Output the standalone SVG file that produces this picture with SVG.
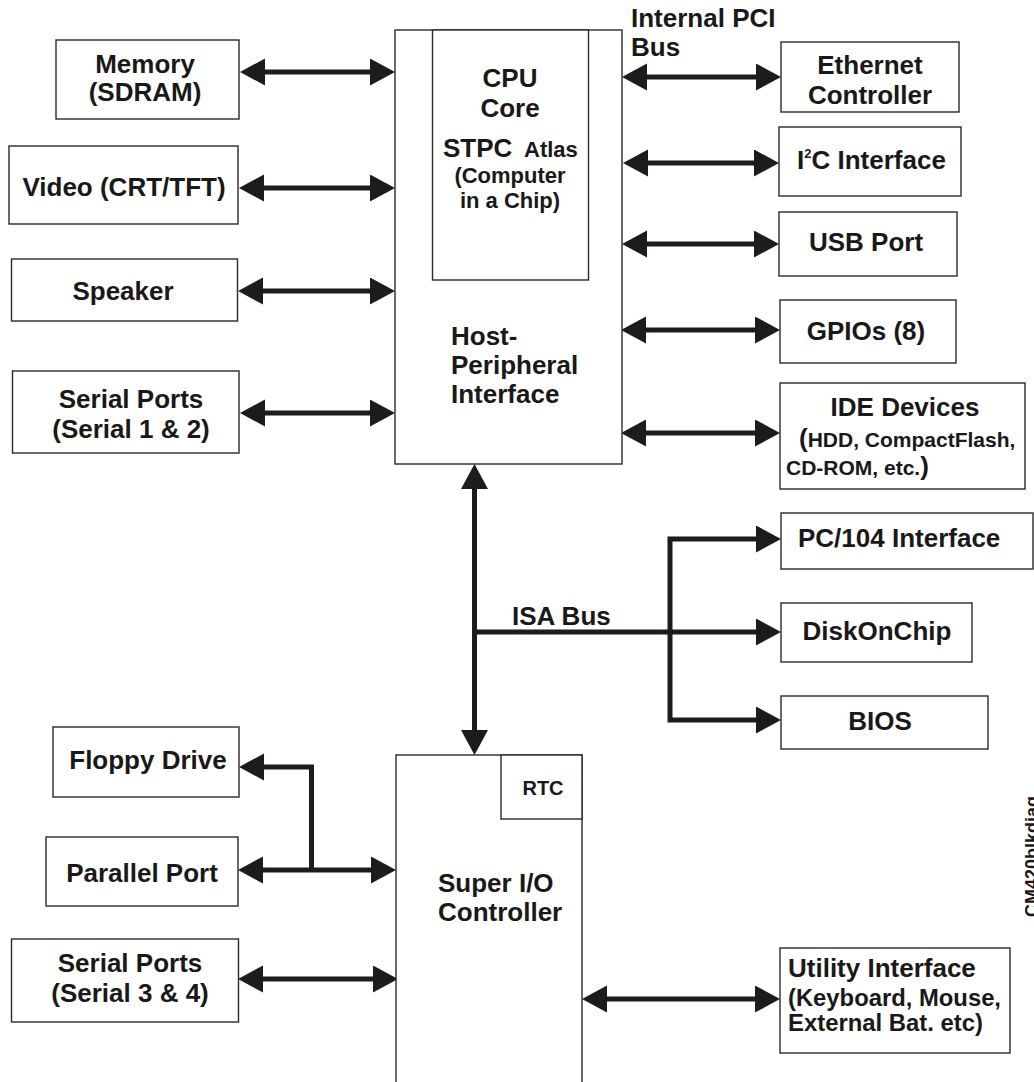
<svg xmlns="http://www.w3.org/2000/svg" width="1034" height="1082" viewBox="0 0 1034 1082">
<style>
.box{fill:#fff;stroke:#2a2a2a;stroke-width:1.4}
.t{font-family:"Liberation Sans",Arial,sans-serif;font-weight:bold;font-size:26px;fill:#1a1818}
.m{text-anchor:middle}
.f22{font-size:22px}
.f21{font-size:21px}
.f20{font-size:20px}
.f23{font-size:23px}
.f18{font-size:18px}
.c{fill:none;stroke:#1d1b1b;stroke-width:5;stroke-linejoin:miter}
.b{marker-start:url(#ah);marker-end:url(#ah)}
.e{marker-end:url(#ah)}
</style>
<defs>
<marker id="ah" markerUnits="userSpaceOnUse" markerWidth="26" markerHeight="28" viewBox="0 0 26 28" refX="13" refY="13.5" orient="auto-start-reverse">
<path d="M0,0 L25,13.5 L0,27 Z" fill="#1d1b1b"/>
</marker>
</defs>
<rect width="1034" height="1082" fill="#fff"/>

<g id="connectors">
<line class="c b" x1="252" y1="72" x2="383" y2="72"/>
<line class="c b" x1="251" y1="188" x2="383" y2="188"/>
<line class="c b" x1="250" y1="291" x2="383" y2="291"/>
<line class="c b" x1="252" y1="413" x2="383" y2="413"/>
<line class="c b" x1="634" y1="77" x2="769" y2="77"/>
<line class="c b" x1="635" y1="163" x2="767" y2="163"/>
<line class="c b" x1="634" y1="244" x2="767" y2="244"/>
<line class="c b" x1="633" y1="330" x2="768" y2="330"/>
<line class="c b" x1="633" y1="433" x2="768" y2="433"/>
<line class="c b" x1="474.5" y1="476" x2="474.5" y2="743"/>
<line class="c e" x1="472" y1="632" x2="769" y2="632"/>
<path class="c b" d="M769,539 H670 V720 H769"/>
<line class="c b" x1="250" y1="870" x2="384" y2="870"/>
<path class="c e" d="M311.5,870 V767 H251"/>
<line class="c b" x1="250" y1="979" x2="386" y2="979"/>
<line class="c b" x1="594" y1="999" x2="768" y2="999"/>
</g>

<g id="memory"><rect class="box" x="56" y="40" width="183" height="79"/>
<text class="t m" x="145" y="73">Memory</text><text class="t m" x="145" y="101">(SDRAM)</text></g>
<g id="video"><rect class="box" x="9" y="146" width="229" height="78"/>
<text class="t m" x="124" y="196">Video (CRT/TFT)</text></g>
<g id="speaker"><rect class="box" x="11.5" y="259" width="226" height="62"/>
<text class="t m" x="123" y="300">Speaker</text></g>
<g id="serial12"><rect class="box" x="12.5" y="371" width="226.5" height="82"/>
<text class="t m" x="131" y="408">Serial Ports</text><text class="t m" x="131" y="438">(Serial 1 &amp; 2)</text></g>

<g id="stpc"><rect class="box" x="395" y="30" width="227" height="434"/>
<text class="t" x="451" y="345">Host-</text><text class="t" x="451" y="374">Peripheral</text><text class="t" x="451" y="403">Interface</text></g>
<g id="cpucore"><rect class="box" x="432.5" y="30" width="156" height="250"/>
<text class="t m" x="510" y="87">CPU</text><text class="t m" x="510" y="117">Core</text>
<text class="t" x="443" y="157">STPC<tspan x="524" font-size="22">Atlas</tspan></text>
<text class="t m f22" x="510" y="183">(Computer</text>
<text class="t m f22" x="510" y="208">in a Chip)</text></g>

<g id="pcibus-label"><text class="t" x="631" y="27">Internal PCI</text><text class="t" x="631" y="56">Bus</text></g>

<g id="ethernet"><rect class="box" x="781" y="42" width="178" height="70"/>
<text class="t m" x="870" y="74">Ethernet</text><text class="t m" x="870" y="104">Controller</text></g>
<g id="i2c"><rect class="box" x="779" y="127" width="182" height="69"/>
<text class="t" x="797" y="169">I<tspan font-size="13" dy="-11">2</tspan><tspan dy="11">C Interface</tspan></text></g>
<g id="usb"><rect class="box" x="779" y="212" width="178" height="64"/>
<text class="t m" x="866" y="251">USB Port</text></g>
<g id="gpio"><rect class="box" x="780" y="300" width="176" height="63"/>
<text class="t m" x="866" y="340">GPIOs (8)</text></g>
<g id="ide"><rect class="box" x="780" y="383" width="245" height="106"/>
<text class="t m" x="905" y="416">IDE Devices</text>
<text class="t f21" x="799" y="447"><tspan font-size="26">(</tspan>HDD, CompactFlash,</text>
<text class="t f21" x="786" y="475">CD-ROM, etc.<tspan font-size="26">)</tspan></text></g>

<g id="isabus-label"><text class="t" x="512" y="625">ISA Bus</text></g>
<g id="pc104"><rect class="box" x="781" y="513" width="252" height="56"/>
<text class="t" x="798" y="547">PC/104 Interface</text></g>
<g id="diskonchip"><rect class="box" x="781" y="603" width="191" height="59"/>
<text class="t m" x="877" y="640">DiskOnChip</text></g>
<g id="bios"><rect class="box" x="781" y="696" width="207" height="53"/>
<text class="t m" x="880" y="730">BIOS</text></g>

<g id="floppy"><rect class="box" x="53" y="727" width="186" height="70"/>
<text class="t m" x="148" y="769">Floppy Drive</text></g>
<g id="parallel"><rect class="box" x="46" y="837" width="192" height="69"/>
<text class="t m" x="142" y="882">Parallel Port</text></g>
<g id="serial34"><rect class="box" x="11.5" y="939" width="227" height="83"/>
<text class="t m" x="130" y="972">Serial Ports</text><text class="t m" x="130" y="1002">(Serial 3 &amp; 4)</text></g>

<g id="superio"><rect class="box" x="396" y="755" width="186" height="345"/>
<text class="t" x="438" y="892">Super I/O</text><text class="t" x="438" y="921">Controller</text></g>
<g id="rtc"><rect class="box" x="501" y="755" width="81" height="64"/>
<text class="t m f20" x="543" y="795">RTC</text></g>

<g id="utility"><rect class="box" x="780" y="948" width="230" height="105"/>
<text class="t" x="788" y="977">Utility Interface</text>
<text class="t f23" x="788" y="1006" textLength="213" lengthAdjust="spacingAndGlyphs">(Keyboard, Mouse,</text>
<text class="t f23" x="788" y="1031" textLength="195" lengthAdjust="spacingAndGlyphs">External Bat. etc)</text></g>

<text class="t f18" transform="translate(1038,917) rotate(-90)">CM420blkdiag</text>
</svg>
